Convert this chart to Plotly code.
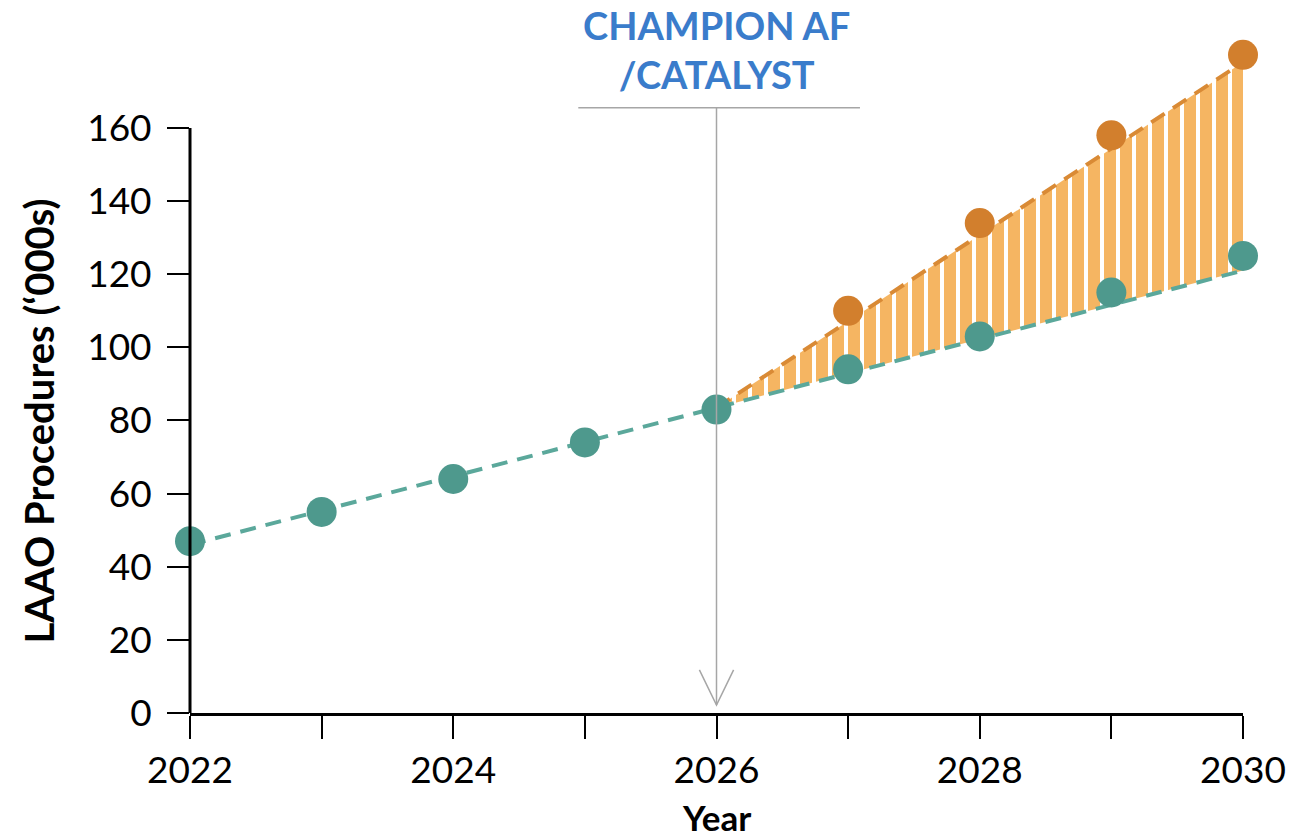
import numpy as np
import plotly.graph_objects as go

# LAAO procedure volumes ('000s)
years = [2022, 2023, 2024, 2025, 2026, 2027, 2028, 2029, 2030]
base_volume = [47, 55, 64, 74, 83, 94, 103, 115, 125]
uplift_years = [2027, 2028, 2029, 2030]
uplift_volume = [110, 134, 158, 180]

# Trend lines
base_trend_years = [2022, 2030]
base_trend = [46, 121]
uplift_trend_years = [2026, 2030]
uplift_trend = [83.5, 178]

y_ticks = [0, 20, 40, 60, 80, 100, 120, 140, 160]
x_ticks = [2022, 2023, 2024, 2025, 2026, 2027, 2028, 2029, 2030]
x_tick_text = ["2022", "", "2024", "", "2026", "", "2028", "", "2030"]

TEAL = "#4E998D"
TEAL_LINE = "#5BA89B"
ORANGE = "#D27F2D"
ORANGE_LINE = "#D98A35"
ORANGE_FILL = "#F5B562"
FONT = "Lato"

fig = go.Figure()

# Lower edge of the shaded gap (base trend over the uplift period)
gap_low = np.interp(uplift_trend_years, base_trend_years, base_trend)
fig.add_trace(go.Scatter(
    x=uplift_trend_years, y=gap_low, mode="lines",
    line=dict(width=0, color="rgba(0,0,0,0)"), hoverinfo="skip", showlegend=False,
))
fig.add_trace(go.Scatter(
    x=uplift_trend_years, y=uplift_trend, mode="lines",
    line=dict(width=0, color="rgba(0,0,0,0)"), fill="tonexty",
    fillcolor=ORANGE_FILL,
    fillpattern=dict(shape="|", fgcolor=ORANGE_FILL, bgcolor="white",
                     size=16, solidity=0.75, fillmode="replace"),
    hoverinfo="skip", showlegend=False,
))

# Dashed trend lines
fig.add_trace(go.Scatter(
    x=base_trend_years, y=base_trend, mode="lines",
    line=dict(color=TEAL_LINE, width=4, dash="16px,10px"),
    showlegend=False, cliponaxis=False,
))
fig.add_trace(go.Scatter(
    x=uplift_trend_years, y=uplift_trend, mode="lines",
    line=dict(color=ORANGE_LINE, width=4, dash="16px,10px"),
    showlegend=False, cliponaxis=False,
))

# Data points
fig.add_trace(go.Scatter(
    x=years, y=base_volume, mode="markers",
    marker=dict(color=TEAL, size=30, line=dict(width=0)),
    showlegend=False, cliponaxis=False,
))
fig.add_trace(go.Scatter(
    x=uplift_years, y=uplift_volume, mode="markers",
    marker=dict(color=ORANGE, size=30, line=dict(width=0)),
    showlegend=False, cliponaxis=False,
))

shapes = [
    # y-axis line up to the last tick
    dict(type="line", xref="paper", yref="y", x0=0, x1=0, y0=0, y1=160,
         line=dict(color="black", width=3)),
    # marker line for the trial readout
    dict(type="line", xref="x", yref="y", x0=2024.95, x1=2027.09, y0=165.5, y1=165.5,
         line=dict(color="#A6A6A6", width=1.5)),
    dict(type="line", xref="x", yref="y", x0=2026, x1=2026, y0=165.5, y1=2.2,
         line=dict(color="#A6A6A6", width=1.5)),
    dict(type="path", xref="x", yref="y",
         path="M 2025.87 11.8 L 2026 2.2 L 2026.13 11.8",
         line=dict(color="#A6A6A6", width=1.5)),
]

annotations = [
    dict(text="<b>CHAMPION AF<br>/CATALYST</b>", x=2026, y=181.5, xref="x", yref="y",
         showarrow=False, xanchor="center", yanchor="middle",
         font=dict(family=FONT, size=38, color="#3A7CCB")),
    dict(text="<b>Year</b>", x=2026, y=-0.146, xref="x", yref="paper",
         showarrow=False, xanchor="center", yanchor="middle",
         font=dict(family=FONT, size=35, color="black")),
    dict(text="<b>LAAO Procedures (‘000s)</b>", x=-0.1425, y=80, xref="paper", yref="y",
         showarrow=False, textangle=-90, xanchor="center", yanchor="middle",
         font=dict(family=FONT, size=40, color="black")),
]

fig.update_layout(
    width=1306, height=839,
    margin=dict(l=190, r=63, t=0, b=126),
    paper_bgcolor="white", plot_bgcolor="white",
    font=dict(family=FONT, color="black"),
    shapes=shapes, annotations=annotations,
    xaxis=dict(
        range=[2022, 2030], tickvals=x_ticks, ticktext=x_tick_text,
        ticks="outside", ticklen=23, tickwidth=2, tickcolor="black",
        showline=True, linecolor="black", linewidth=3,
        showgrid=False, zeroline=False,
        tickfont=dict(family=FONT, size=37, color="black"),
    ),
    yaxis=dict(
        range=[0, 195], tickvals=y_ticks,
        ticks="outside", ticklen=22, tickwidth=2, tickcolor="black",
        ticklabelstandoff=8,
        showline=False, showgrid=False, zeroline=False,
        tickfont=dict(family=FONT, size=37, color="black"),
    ),
)

fig.write_html("out.html")
